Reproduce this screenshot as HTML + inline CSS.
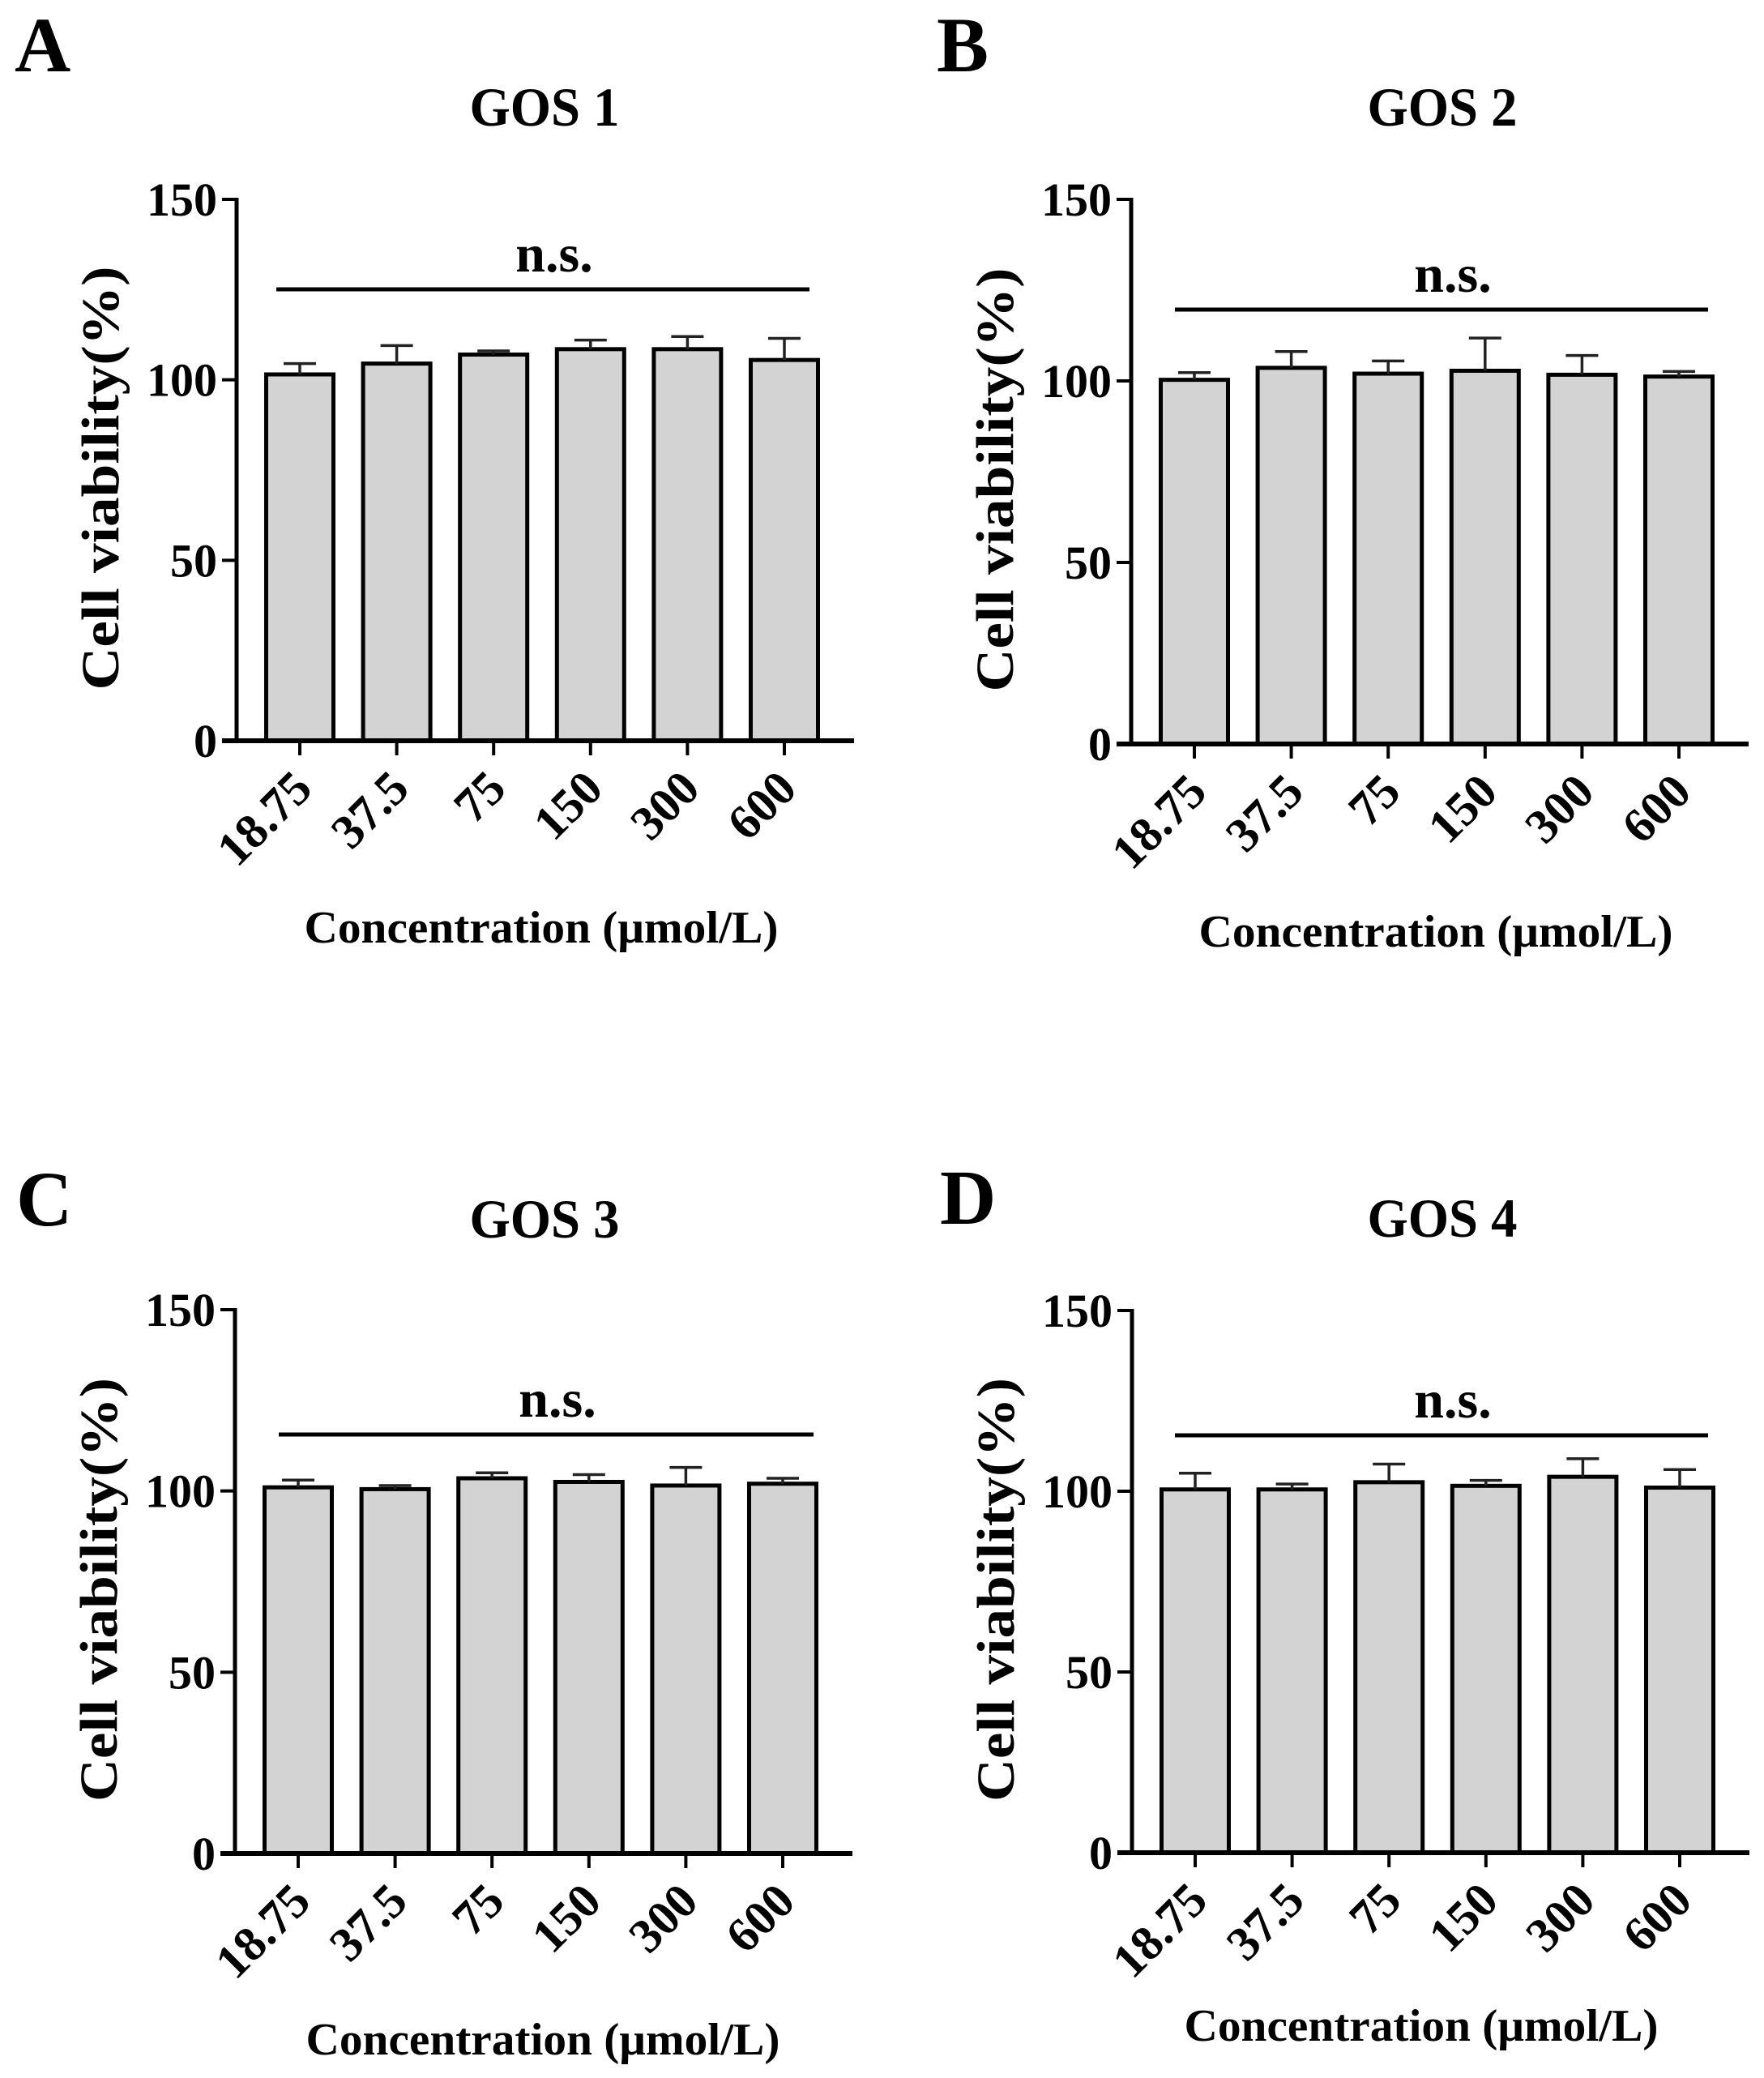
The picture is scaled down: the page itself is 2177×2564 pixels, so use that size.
<!DOCTYPE html>
<html><head><meta charset="utf-8">
<style>
html,body{margin:0;padding:0;background:#fff;}
svg{display:block;}
text{font-family:"Liberation Serif",serif;font-weight:bold;fill:#000;}
</style></head>
<body>
<svg id="fig" width="2177" height="2564" viewBox="0 0 2177 2564" xmlns="http://www.w3.org/2000/svg"></svg>
<script>
const categories = ["18.75","37.5","75","150","300","600"];
const yTicks = [0,50,100,150];
const panelLetters = ["A","B","C","D"];
const panelTitles = ["GOS 1","GOS 2","GOS 3","GOS 4"];
const valuesA = [101.5,104.5,107,108.5,108.5,105.5];
const errorsA = [3,5,1,2.5,3.5,6];
const valuesB = [100.3,103.6,102,102.8,101.7,101.2];
const errorsB = [2,4.5,3.5,9,5.3,1.4];
const valuesC = [101,100.5,103.5,102.5,101.5,102];
const errorsC = [2,1,1.5,2,5,1.5];
const valuesD = [100.5,100.5,102.5,101.5,104,101];
const errorsD = [4.5,1.5,5,1.5,5,5];

const seriesVals = [valuesA,valuesB,valuesC,valuesD];
const seriesErrs = [errorsA,errorsB,errorsC,errorsD];
// layout (pixel geometry)
const layout = [
 {ax:292,y0:914,y150:246,letterX:18,letterY:88,titleX:672,titleY:155,nsY:357,nsL:341,nsR:999,xtY:1163,xtX:668},
 {ax:1396,y0:918,y150:246,letterX:1156,letterY:88,titleX:1780,titleY:155,nsY:382,nsL:1450,nsR:2108,xtY:1168,xtX:1772},
 {ax:290,y0:2287,y150:1616,letterX:20,letterY:1512,titleX:672,titleY:1527,nsY:1770,nsL:344,nsR:1004,xtY:2535,xtX:670},
 {ax:1397,y0:2286,y150:1617,letterX:1160,letterY:1510,titleX:1780,titleY:1526,nsY:1771,nsL:1450,nsR:2108,xtY:2518,xtX:1754}
];
const svg = document.getElementById('fig');
const NS = 'http://www.w3.org/2000/svg';
function mk(tag, attrs, parent){
  const e = document.createElementNS(NS, tag);
  for (const k in attrs) e.setAttribute(k, attrs[k]);
  (parent||svg).appendChild(e);
  return e;
}
layout.forEach((L, p) => {
  const g = mk('g', {});
  
  
  const yScale = v => L.y0 - (v/150)*(L.y0 - L.y150);
  const step = 119.6;
  const xScale = i => L.ax + 78 + i*step;
  const bw = 83;

  const lt = mk('text', {x:L.letterX, y:L.letterY, 'font-size':96}, g);
  lt.textContent = panelLetters[p];
  
  

  const tt = mk('text', {x:L.titleX, y:L.titleY, 'font-size':68, 'text-anchor':'middle', textLength:185, lengthAdjust:'spacingAndGlyphs'}, g);
  tt.textContent = panelTitles[p];
  
  

  seriesVals[p].forEach((v, i) => {
    const cx = xScale(i), top = yScale(v);
    const r = mk('rect', {x:cx - bw/2, y:top, width:bw, height:L.y0 - top, fill:'#d3d3d3', stroke:'#000', 'stroke-width':5}, g);
    
    
    const et = yScale(v + seriesErrs[p][i]);
    const eb = mk('path', {d:`M${cx},${top} V${et} M${cx-20},${et} H${cx+20}`, stroke:'#222', 'stroke-width':3.5, fill:'none'}, g);
    
    
    const tk = mk('line', {x1:cx, x2:cx, y1:L.y0, y2:L.y0+18, stroke:'#000', 'stroke-width':4}, g);
    
    
    const lx = cx + 18, ly = L.y0 + 62;
    const tl = mk('text', {x:lx, y:ly, 'font-size':60, 'text-anchor':'end', transform:`rotate(-45 ${lx} ${ly})`}, g);
    tl.textContent = categories[i];
    
    
  });

  const ya = mk('line', {x1:L.ax, x2:L.ax, y1:L.y150-2, y2:L.y0+2, stroke:'#000', 'stroke-width':5}, g);
  
  
  const xa = mk('line', {x1:L.ax-18, x2:L.ax+762, y1:L.y0, y2:L.y0, stroke:'#000', 'stroke-width':6}, g);
  
  
  yTicks.forEach(t => {
    const y = yScale(t);
    const yt = mk('line', {x1:L.ax-18, x2:L.ax, y1:y, y2:y, stroke:'#000', 'stroke-width':4}, g);
    
    
    const yl = mk('text', {x:L.ax-24, y:y+20, 'font-size':58, 'text-anchor':'end'}, g);
    yl.textContent = t;
    
    
  });

  const ycx = L.ax - 146, ycy = (L.y0 + L.y150)/2 + 10;
  const yt = mk('text', {x:ycx, y:ycy, 'font-size':66, 'text-anchor':'middle', textLength:523, lengthAdjust:'spacingAndGlyphs', transform:`rotate(-90 ${ycx} ${ycy})`}, g);
  yt.textContent = 'Cell viability(%)';
  
  

  const xt = mk('text', {x:L.xtX, y:L.xtY, 'font-size':56, 'text-anchor':'middle', textLength:585, lengthAdjust:'spacingAndGlyphs'}, g);
  xt.textContent = 'Concentration (\u03bcmol/L)';
  
  

  const nl = mk('line', {x1:L.nsL, x2:L.nsR, y1:L.nsY, y2:L.nsY, stroke:'#000', 'stroke-width':5}, g);
  
  
  const nt = mk('text', {x:(L.nsL+L.nsR)/2 + 14, y:L.nsY - 22, 'font-size':66, 'text-anchor':'middle'}, g);
  nt.textContent = 'n.s.';
  
  
});
</script>
</body></html>
